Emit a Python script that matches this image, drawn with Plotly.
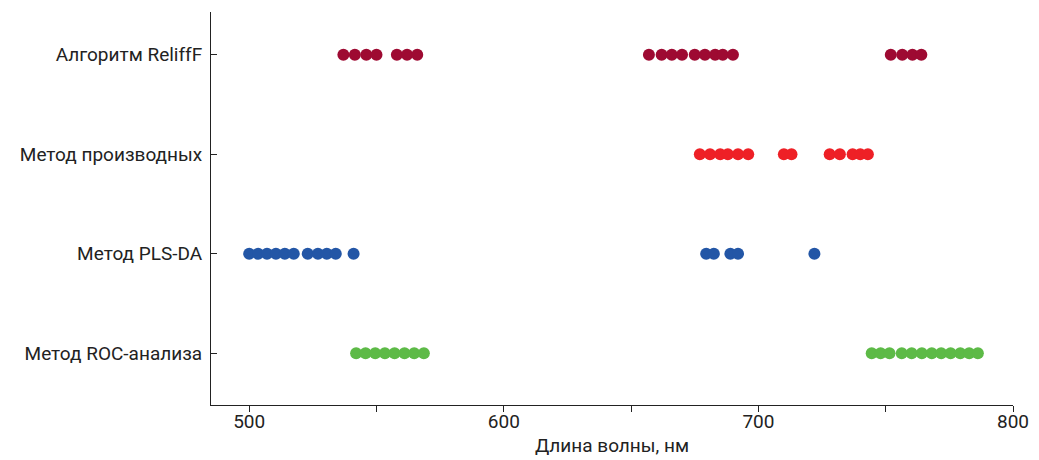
import plotly.graph_objects as go

categories = ["Метод ROC-анализа", "Метод PLS-DA", "Метод производных", "Алгоритм ReliffF"]

relieff_nm = [537, 541.5, 546, 550, 558, 562, 566,
              657, 662, 666, 670, 675, 679, 683, 686, 690,
              752, 756.5, 760.5, 764]
deriv_nm = [677, 681, 685, 688, 692, 696,
            710, 713,
            728, 732, 737, 740, 743]
plsda_nm = [500, 503.5, 507, 510.5, 514, 517.5,
            523, 527, 530.5, 534, 541,
            679.5, 682.5, 689, 692, 722]
roc_nm = [542, 545.7, 549.5, 553.3, 557.1, 561, 564.8, 568.6,
          744.5, 748, 751.5, 756.3, 760.2, 764.2, 768.1, 771.8,
          775.5, 779.3, 782.8, 786.2]

series = [
    ("Алгоритм ReliffF", relieff_nm, "#9E0A32"),
    ("Метод производных", deriv_nm, "#EE2026"),
    ("Метод PLS-DA", plsda_nm, "#2356A6"),
    ("Метод ROC-анализа", roc_nm, "#5DBA47"),
]

x_tick_vals = [500, 600, 700, 800]
x_title = "Длина волны, нм"

fig = go.Figure()
for name, vals, color in series:
    fig.add_trace(go.Scatter(
        x=vals, y=[name] * len(vals), mode="markers",
        marker=dict(size=12, color=color, line=dict(width=0)),
        name=name, showlegend=False,
    ))

font_family = "Roboto, 'Noto Sans', sans-serif"

fig.update_layout(
    width=1039, height=460,
    margin=dict(l=203, r=34, t=4, b=63),
    plot_bgcolor="white", paper_bgcolor="white",
    font=dict(family=font_family, size=19, color="#222"),
    xaxis=dict(
        range=[485, 800], tickvals=x_tick_vals, ticks="outside", ticklen=6,
        tickcolor="#222", showline=True, linecolor="#222", linewidth=1,
        showgrid=False, zeroline=False,
        minor=dict(dtick=50, tick0=500, ticks="outside", ticklen=6, tickcolor="#222", showgrid=False),
        title=dict(text=x_title, font=dict(size=19), standoff=6),
        tickfont=dict(size=19), ticklabelstandoff=-7,
    ),
    yaxis=dict(
        type="category", categoryorder="array", categoryarray=categories,
        range=[-0.52, 3.43], ticks="inside", ticklen=6, tickcolor="#222",
        showline=True, linecolor="#222", linewidth=1, showgrid=False,
        zeroline=False, tickfont=dict(size=19), ticklabelstandoff=4,
    ),
)

fig.write_html("out.html")
